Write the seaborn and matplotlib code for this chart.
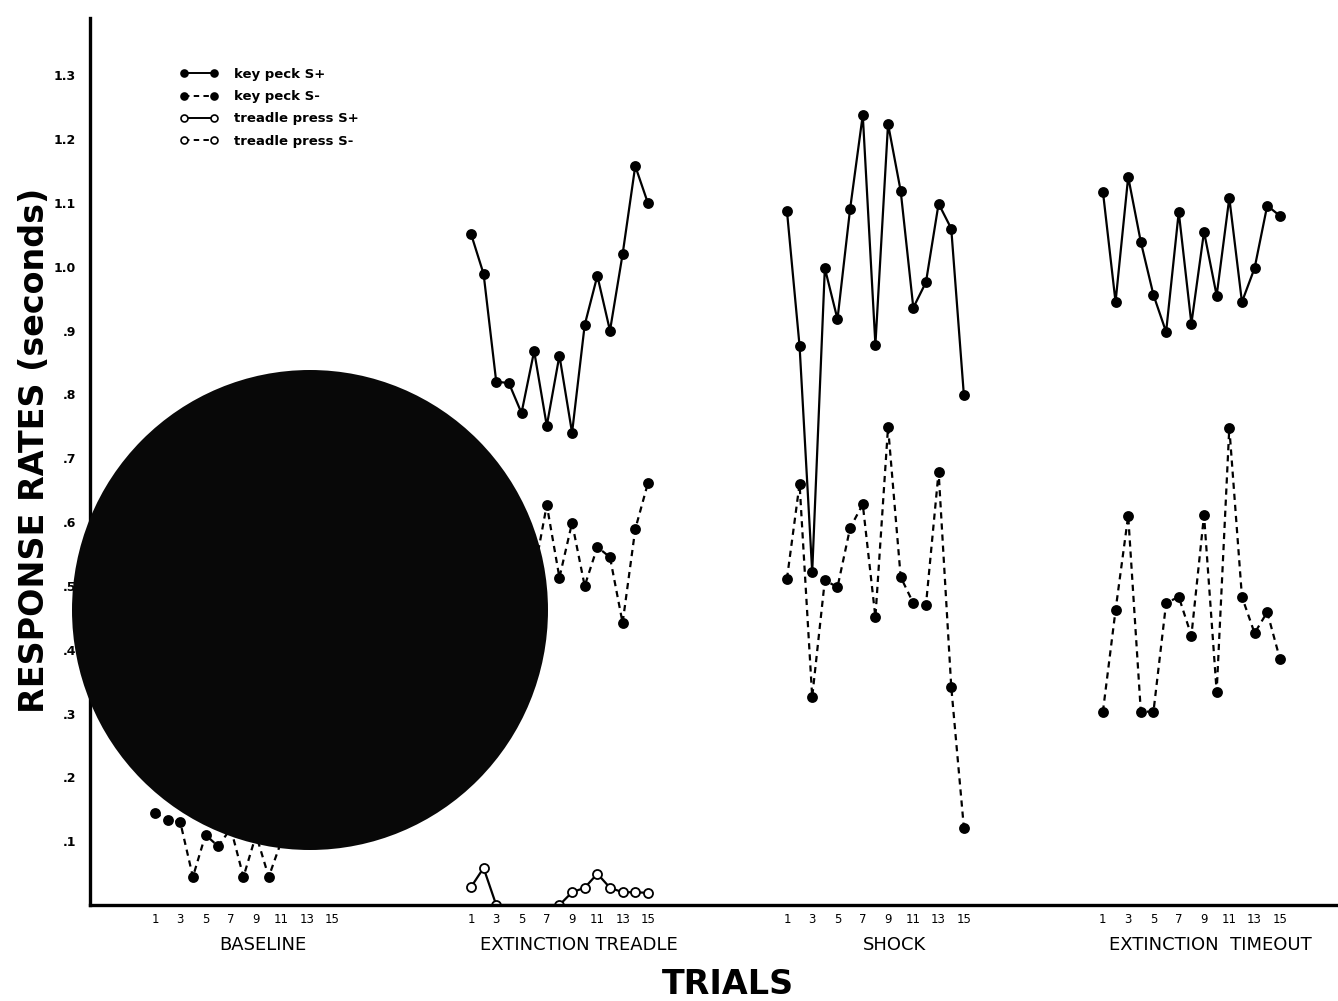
import numpy as np
import pandas as pd
import seaborn as sns
import matplotlib.pyplot as plt
from matplotlib.patches import Ellipse
from matplotlib.lines import Line2D

nan = np.nan

trials = list(range(1, 16))
blocks = ["BASELINE", "EXTINCTION TREADLE", "SHOCK", "EXTINCTION  TIMEOUT"]
block_offset = [0, 25, 50, 75]

# baseline: key peck S+ and most of S- sit under the ink blot of the scan
base_kp_plus = [nan] * 15
base_kp_minus = [0.144, 0.133, 0.13, 0.044, 0.11, 0.092, 0.12, 0.044, 0.11, 0.044,
                 0.10, 0.10, 0.10, 0.10, nan]

ext_kp_plus = [1.052, 0.989, 0.82, 0.818, 0.771, 0.868, 0.751, 0.861, 0.74, 0.909,
               0.986, 0.90, 1.02, 1.158, 1.10]
ext_kp_minus = [nan, nan, nan, nan, nan, 0.52, 0.627, 0.513, 0.599, 0.50,
                0.561, 0.545, 0.442, 0.589, 0.661]
ext_tp_plus = [0.028, 0.058, 0.0, nan, nan, nan, nan, 0.0, 0.02, 0.027,
               0.049, 0.027, 0.02, 0.02, 0.019]

shock_kp_plus = [1.088, 0.876, 0.522, 0.998, 0.918, 1.091, 1.238, 0.878, 1.224, 1.119,
                 0.936, 0.976, 1.099, 1.06, 0.799]
shock_kp_minus = [0.511, 0.66, 0.326, 0.509, 0.498, 0.591, 0.628, 0.451, 0.749, 0.514,
                  0.473, 0.47, 0.679, 0.342, 0.121]

tout_kp_plus = [1.118, 0.945, 1.141, 1.039, 0.956, 0.898, 1.086, 0.911, 1.055, 0.955,
                1.108, 0.945, 0.998, 1.096, 1.08]
tout_kp_minus = [0.303, 0.462, 0.61, 0.303, 0.303, 0.473, 0.483, 0.422, 0.611, 0.334,
                 0.748, 0.483, 0.426, 0.459, 0.386]

series_data = {
    "key peck S+": [base_kp_plus, ext_kp_plus, shock_kp_plus, tout_kp_plus],
    "key peck S-": [base_kp_minus, ext_kp_minus, shock_kp_minus, tout_kp_minus],
    "treadle press S+": [[nan] * 15, ext_tp_plus, [nan] * 15, [nan] * 15],
}

rows = []
for name, per_block in series_data.items():
    for b, vals in enumerate(per_block):
        for t, v in zip(trials, vals):
            rows.append({"series": name, "block": b, "x": block_offset[b] + t, "rate": v})
df = pd.DataFrame(rows)

sns.set_style("white")
plt.rcParams["font.family"] = ["DejaVu Sans"]
plt.rcParams["text.color"] = "black"
plt.rcParams["xtick.color"] = "black"
plt.rcParams["ytick.color"] = "black"

fig = plt.figure(figsize=(13.38, 10.01), dpi=100)
ax = fig.add_axes([90 / 1338, 96 / 1001, 1248 / 1338, 887 / 1001])

dash = (0, (2.8, 2.2))
styles = {
    "key peck S+": dict(linestyle="-", markerfacecolor="black"),
    "key peck S-": dict(linestyle=dash, markerfacecolor="black"),
    "treadle press S+": dict(linestyle="-", markerfacecolor="white"),
    "treadle press S-": dict(linestyle=dash, markerfacecolor="white"),
}

for name in series_data:
    sub = df[df["series"] == name]
    sns.lineplot(data=sub, x="x", y="rate", units="block", estimator=None,
                 color="black", lw=1.6, marker="o", markersize=6.5,
                 markeredgecolor="black", markeredgewidth=1.3,
                 legend=False, ax=ax, **styles[name])

ax.set_xlim(-4.14, 94.6)
ax.set_ylim(0, 1.39)

xt, xl = [], []
for off in block_offset:
    for t in trials:
        xt.append(off + t)
        xl.append(str(t) if t % 2 == 1 else "")
ax.set_xticks(xt)
ax.set_xticklabels(xl, fontsize=8.5)
yt = [round(0.1 * i, 1) for i in range(1, 14)]
ax.set_yticks(yt + [1.39])
ax.set_yticklabels([("%.1f" % v).lstrip("0") if v < 1 else "%.1f" % v for v in yt] + [""],
                   fontsize=9, fontweight="bold")
ax.tick_params(axis="x", direction="in", length=9, width=1.5, pad=6, colors="black")
ax.tick_params(axis="y", direction="in", length=9, width=1.5, pad=10, colors="black")
ax.set_xlabel("")
ax.set_ylabel("")

for side in ["top", "right"]:
    ax.spines[side].set_visible(False)
for side in ["left", "bottom"]:
    ax.spines[side].set_linewidth(2.4)
    ax.spines[side].set_color("black")

for off, label in zip(block_offset, blocks):
    ax.text(off + 9.5, -0.045, label, transform=ax.get_xaxis_transform(),
            ha="center", va="center", fontsize=13)

fig.text(728 / 1338, 1 - 985 / 1001, "TRIALS", ha="center", va="center",
         fontsize=24, fontweight="bold")
fig.text(35 / 1338, 1 - 450 / 1001, "RESPONSE RATES (seconds)", rotation=90,
         ha="center", va="center", fontsize=24, fontweight="bold")

handles = [Line2D([], [], color="black", lw=1.4, marker="o", markersize=5,
                  markeredgecolor="black", markeredgewidth=1.2, **styles[n])
           for n in styles]
fig.legend(handles, list(styles.keys()), loc="upper left",
           bbox_to_anchor=(180 / 1338, 1 - 68 / 1001), frameon=False,
           numpoints=2, handlelength=2.9, labelspacing=0.7, handletextpad=1.2,
           borderpad=0, borderaxespad=0, prop={"size": 9.5, "weight": "bold"})

# the round ink blot that covers part of the scanned original
blot = Ellipse((310 / 1338, 1 - 610 / 1001), width=476 / 1338, height=480 / 1001,
               transform=fig.transFigure, facecolor="#080808", edgecolor="none",
               zorder=20)
fig.add_artist(blot)

fig.savefig("out.png", dpi=100, facecolor="white")
